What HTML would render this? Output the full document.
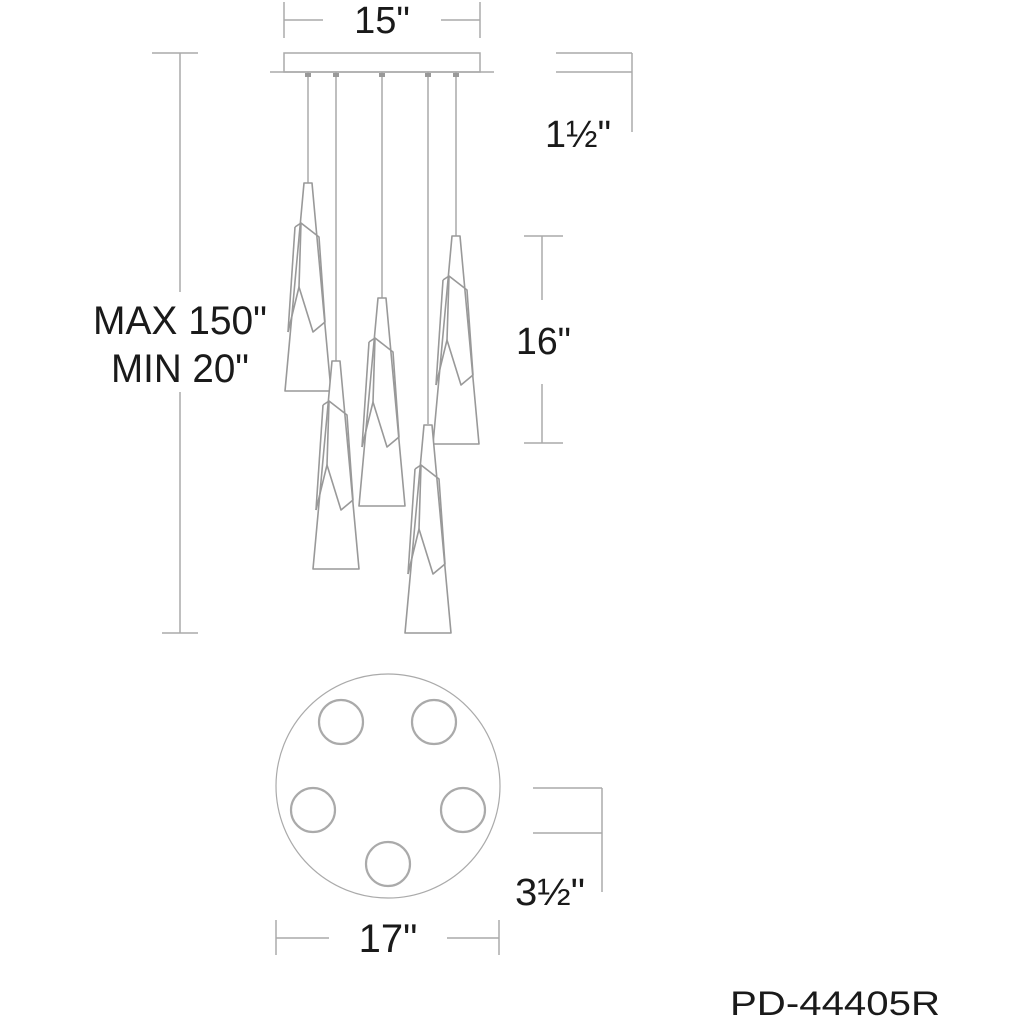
<!DOCTYPE html>
<html><head><meta charset="utf-8"><style>html,body{margin:0;padding:0;background:#fff}</style></head>
<body>
<svg width="1024" height="1024" viewBox="0 0 1024 1024" xmlns="http://www.w3.org/2000/svg">
<defs>
<g id="pend" fill="none" stroke="#999" stroke-width="1.6" stroke-linejoin="round">
  <path d="M-4,0 L4,0 L23,208 L-23,208 Z" fill="#fff"/>
  <path d="M-13,44 L-7,40 L11,54 L17,139 L5,149 L-9,104 L-20,149"/>
  <path d="M-7,40 L-9,104"/>
  <path d="M-13,44 L-20,149"/>
</g>
</defs>
<g stroke="#aaa" stroke-width="1.5" fill="none">
  <!-- 15 dim -->
  <line x1="284" y1="2" x2="284" y2="38"/><line x1="480" y1="2" x2="480" y2="38"/>
  <line x1="284" y1="20" x2="323" y2="20"/><line x1="441" y1="20" x2="480" y2="20"/>
  <!-- canopy -->
  <rect x="284" y="53" width="196" height="19"/>
  <line x1="270" y1="72" x2="494" y2="72"/>
  <!-- 1.5 dim -->
  <line x1="556" y1="53" x2="632" y2="53"/><line x1="556" y1="72" x2="632" y2="72"/>
  <line x1="632" y1="53" x2="632" y2="132"/>
  <!-- left dim -->
  <line x1="152" y1="53" x2="198" y2="53"/><line x1="180" y1="53" x2="180" y2="292"/>
  <line x1="180" y1="392" x2="180" y2="633"/><line x1="162" y1="633" x2="198" y2="633"/>
  <!-- 16 dim -->
  <line x1="524" y1="236" x2="563" y2="236"/><line x1="542" y1="236" x2="542" y2="300"/>
  <line x1="542" y1="384" x2="542" y2="443"/><line x1="524" y1="443" x2="563" y2="443"/>
  <!-- cords -->
  <line x1="308" y1="72" x2="308" y2="183"/>
  <line x1="336" y1="72" x2="336" y2="361"/>
  <line x1="382" y1="72" x2="382" y2="298"/>
  <line x1="428" y1="72" x2="428" y2="424"/>
  <line x1="456" y1="72" x2="456" y2="236"/>
</g>
<g fill="#999">
  <rect x="305" y="73" width="6" height="4"/><rect x="333" y="73" width="6" height="4"/>
  <rect x="379" y="73" width="6" height="4"/><rect x="425" y="73" width="6" height="4"/>
  <rect x="453" y="73" width="6" height="4"/>
</g>
<use href="#pend" x="308" y="183"/>
<use href="#pend" x="456" y="236"/>
<use href="#pend" x="382" y="298"/>
<use href="#pend" x="336" y="361"/>
<use href="#pend" x="428" y="425"/>
<!-- plan view -->
<g fill="none" stroke="#aaa">
  <circle cx="388" cy="786" r="112" stroke-width="1.2"/>
  <g stroke-width="2.2">
    <circle cx="341" cy="722" r="22"/><circle cx="434" cy="722" r="22"/>
    <circle cx="313" cy="810" r="22"/><circle cx="463" cy="810" r="22"/>
    <circle cx="388" cy="864" r="22"/>
  </g>
  <g stroke-width="1.5">
    <line x1="533" y1="788" x2="602" y2="788"/><line x1="533" y1="833" x2="602" y2="833"/>
    <line x1="602" y1="788" x2="602" y2="892"/>
    <line x1="276" y1="920" x2="276" y2="955"/><line x1="499" y1="920" x2="499" y2="955"/>
    <line x1="276" y1="938" x2="329" y2="938"/><line x1="447" y1="938" x2="499" y2="938"/>
  </g>
</g>
<g font-family="Liberation Sans, sans-serif" fill="#1a1a1a">
  <text x="382" y="33" font-size="38" text-anchor="middle">15"</text>
  <text x="545" y="147" font-size="38" textLength="66" lengthAdjust="spacingAndGlyphs">1½"</text>
  <text x="93" y="334" font-size="40" textLength="174" lengthAdjust="spacingAndGlyphs">MAX 150"</text>
  <text x="111" y="382" font-size="40" textLength="138" lengthAdjust="spacingAndGlyphs">MIN 20"</text>
  <text x="516" y="354" font-size="38" textLength="55" lengthAdjust="spacingAndGlyphs">16"</text>
  <text x="515" y="905" font-size="38" textLength="70" lengthAdjust="spacingAndGlyphs">3½"</text>
  <text x="388" y="952" font-size="40" text-anchor="middle">17"</text>
  <text x="730" y="1015" font-size="34" textLength="210" lengthAdjust="spacingAndGlyphs">PD-44405R</text>
</g>
</svg>
</body></html>
